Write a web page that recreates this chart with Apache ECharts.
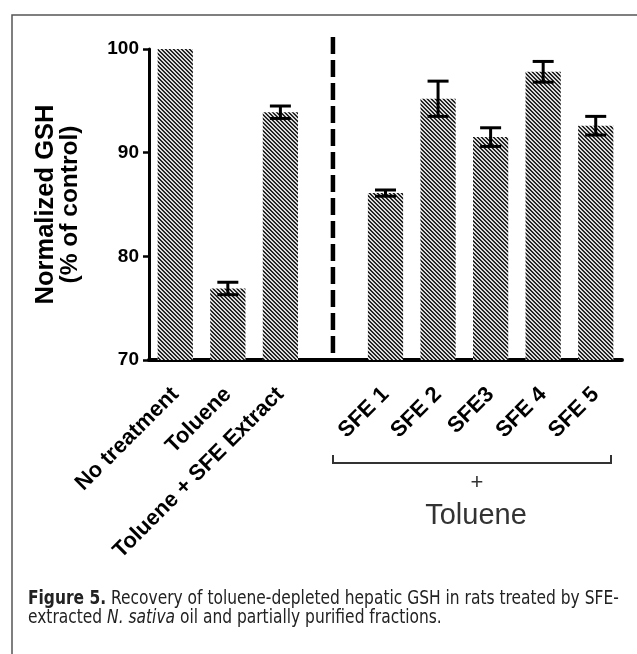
<!DOCTYPE html>
<html>
<head>
<meta charset="utf-8">
<script src="https://cdn.jsdelivr.net/npm/echarts@6/dist/echarts.min.js"></script>
<style>
  html, body { margin: 0; padding: 0; background: #fff; }
  #chart { width: 637px; height: 654px; }
</style>
</head>
<body>
<div id="chart"></div>
<script>
var categories = ['No treatment', 'Toluene', 'Toluene + SFE Extract', '', 'SFE 1', 'SFE 2', 'SFE3', 'SFE 4', 'SFE 5'];
var gshMean = [100, 76.9, 93.9, '-', 86.1, 95.2, 91.5, 97.8, 92.6];
var gshErr = [0, 0.6, 0.6, 0, 0.3, 1.7, 0.9, 1.0, 0.9];
var yTicks = [70, 80, 90, 100];
var dividerIndex = 3;

// diagonal hatch "\\\\" for the bars, 4px period
function hatch() {
  var c = document.createElement('canvas');
  c.width = 4; c.height = 4;
  var ctx = c.getContext('2d');
  var img = ctx.createImageData(4, 4);
  for (var y = 0; y < 4; y++) {
    for (var x = 0; x < 4; x++) {
      var d = ((x - y) % 4 + 4) % 4;
      var v = d === 0 ? 20 : d === 1 ? 60 : d === 2 ? 235 : 200;
      var p = (y * 4 + x) * 4;
      img.data[p] = v; img.data[p + 1] = v; img.data[p + 2] = v; img.data[p + 3] = 255;
    }
  }
  ctx.putImageData(img, 0, 0);
  return c;
}

var errData = [];
for (var i = 0; i < gshMean.length; i++) {
  if (gshMean[i] === '-' || !gshErr[i]) continue;
  errData.push([i, gshMean[i] - gshErr[i], gshMean[i] + gshErr[i]]);
}

function renderErr(params, api) {
  var x = api.value(0);
  var lo = api.coord([x, api.value(1)]);
  var hi = api.coord([x, api.value(2)]);
  var half = 10.5;
  var st = { stroke: '#000', lineWidth: 3 };
  return {
    type: 'group',
    children: [
      { type: 'line', shape: { x1: lo[0], y1: lo[1], x2: hi[0], y2: hi[1] }, style: st },
      { type: 'line', shape: { x1: hi[0] - half, y1: hi[1], x2: hi[0] + half, y2: hi[1] }, style: st },
      { type: 'line', shape: { x1: lo[0] - half, y1: lo[1], x2: lo[0] + half, y2: lo[1] }, style: st }
    ]
  };
}

var capFont = 'DejaVu Sans Condensed, Liberation Sans Narrow, sans-serif';

var myChart = echarts.init(document.getElementById('chart'));
var option = {
  backgroundColor: '#fff',
  animation: false,
  grid: { left: 149, right: 15, top: 49, bottom: 294 },
  xAxis: {
    type: 'category',
    data: categories,
    axisLine: { lineStyle: { color: '#000', width: 4 } },
    axisTick: { alignWithLabel: true, length: 8, lineStyle: { color: '#000', width: 3 } },
    axisLabel: {
      interval: 0,
      rotate: 45,
      margin: 31,
      color: '#000',
      fontFamily: 'Liberation Sans, Arial, sans-serif',
      fontWeight: 'bold',
      fontSize: 22
    }
  },
  yAxis: {
    type: 'value',
    min: yTicks[0],
    max: yTicks[yTicks.length - 1],
    interval: 10,
    name: '{a|Normalized GSH}\n{b|(% of control)}',
    nameLocation: 'middle',
    nameGap: 66,
    nameTextStyle: {
      color: '#000',
      fontFamily: 'Liberation Sans, Arial, sans-serif',
      fontWeight: 'bold',
      fontSize: 24,
      lineHeight: 25,
      rich: {
        a: { fontFamily: 'Liberation Sans, Arial, sans-serif', fontWeight: 'bold', fontSize: 25.5, lineHeight: 25, color: '#000' },
        b: { fontFamily: 'Liberation Sans, Arial, sans-serif', fontWeight: 'bold', fontSize: 24.5, lineHeight: 25, color: '#000' }
      }
    },
    splitLine: { show: false },
    axisLine: { show: true, lineStyle: { color: '#000', width: 3 } },
    axisTick: { show: true, length: 6, lineStyle: { color: '#000', width: 2.5 } },
    axisLabel: {
      margin: 10,
      color: '#000',
      fontFamily: 'Liberation Sans, Arial, sans-serif',
      fontWeight: 'bold',
      fontSize: 19
    }
  },
  series: [
    {
      type: 'bar',
      data: gshMean,
      barWidth: '67%',
      itemStyle: { color: { image: hatch(), repeat: 'repeat' } }
    },
    {
      type: 'custom',
      renderItem: renderErr,
      data: errData,
      z: 5
    }
  ],
  graphic: [
    {
      id: 'frame',
      type: 'polyline',
      shape: { points: [[12, 654], [12, 15], [637, 15]] },
      style: { stroke: '#555', lineWidth: 1.5, fill: null }
    },
    {
      id: 'bracket',
      type: 'polyline',
      shape: { points: [[333, 455], [333, 463], [611, 463], [611, 455]] },
      style: { stroke: '#333', lineWidth: 2, fill: null }
    },
    {
      id: 'plus',
      type: 'text',
      x: 477, y: 483,
      style: { text: '+', fill: '#333', font: '22px Liberation Sans, Arial, sans-serif', textAlign: 'center', textVerticalAlign: 'middle' }
    },
    {
      id: 'groupName',
      type: 'text',
      x: 476, y: 516,
      style: { text: 'Toluene', fill: '#333', font: '29px Liberation Sans, Arial, sans-serif', textAlign: 'center', textVerticalAlign: 'middle' }
    },
    {
      id: 'caption',
      type: 'text',
      x: 28, y: 590,
      scaleX: 0.905,
      style: {
        text: '{b|Figure 5.} Recovery of toluene-depleted hepatic GSH in rats treated by SFE-\nextracted {i|N. sativa} oil and partially purified fractions.',
        fill: '#222',
        fontFamily: capFont,
        fontSize: 19,
        lineHeight: 19,
        textVerticalAlign: 'top',
        rich: {
          b: { fontWeight: 'bold', fontFamily: capFont, fontSize: 19, fill: '#222' },
          i: { fontStyle: 'italic', fontFamily: capFont, fontSize: 19, fill: '#222' }
        }
      }
    }
  ]
};
myChart.setOption(option);

// vertical dashed divider at the empty category, running a bit above the plot
var divX = myChart.convertToPixel({ xAxisIndex: 0 }, dividerIndex);
var divTop = myChart.convertToPixel({ yAxisIndex: 0 }, 101.15);
var divBottom = myChart.convertToPixel({ yAxisIndex: 0 }, yTicks[0]);
myChart.setOption({
  graphic: [
    {
      id: 'divider',
      type: 'line',
      shape: { x1: divX, y1: divTop, x2: divX, y2: divBottom },
      style: { stroke: '#000', lineWidth: 4.5, lineDash: [17, 6] },
      z: 10
    }
  ]
});
</script>
</body>
</html>
